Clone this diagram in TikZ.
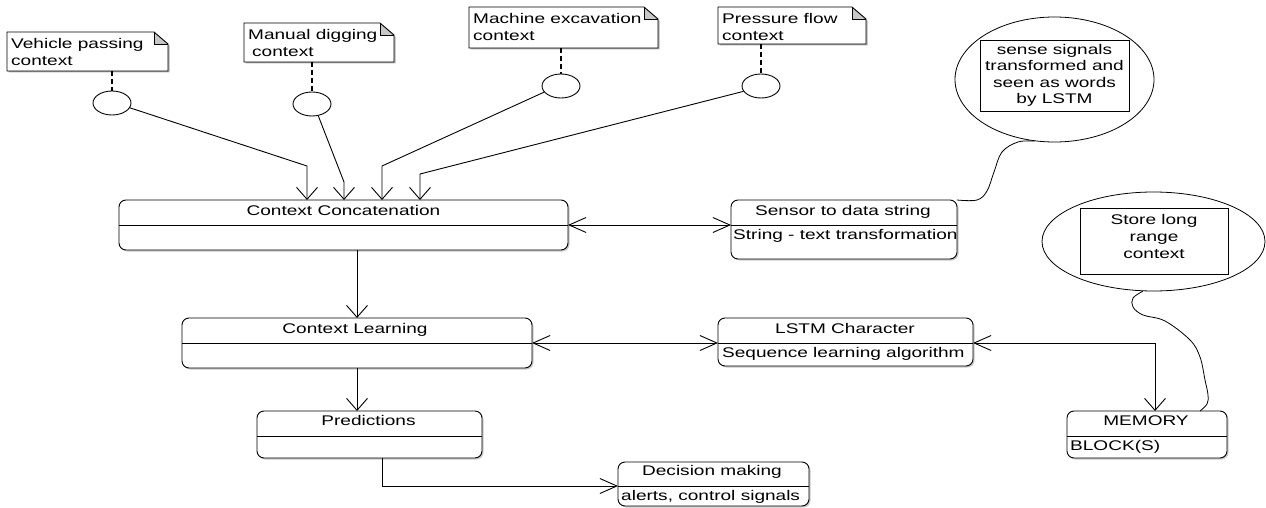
\documentclass[tikz,border=0pt]{standalone}
\usepackage{fontspec}
\setmainfont[FakeStretch=1.36]{Liberation Sans}
\usetikzlibrary{arrows.meta,shapes.geometric,shadows}
\tikzset{
  hbarb/.tip={Straight Barb[length=17pt,width=15pt]},
  vbarb/.tip={Straight Barb[length=12pt,width=21pt]},
  conn/.style={line width=0.9pt, draw=black},
  dashline/.style={line width=1.3pt, dash pattern=on 5pt off 3pt},
  umlbox/.style={draw, line width=0.9pt, rounded corners=7pt, fill=white, inner sep=0pt, outer sep=0pt,
    anchor=north west, drop shadow={shadow xshift=1.5pt, shadow yshift=-1.5pt, fill=black!35, opacity=0.6}},
  notebox/.style={inner sep=0pt, outer sep=0pt, anchor=north west},
  notetext/.style={inner sep=0pt, anchor=north west, align=left},
  ttl/.style={inner sep=0pt, anchor=base},
  body/.style={inner sep=0pt, anchor=base west},
  lolli/.style={ellipse, draw, line width=0.9pt, fill=white, minimum width=38pt, minimum height=24pt, inner sep=0pt},
  bubble/.style={ellipse, draw, line width=0.8pt, fill=white, inner sep=0pt},
  inrect/.style={draw, line width=0.9pt, inner sep=0pt},
}
\newcommand\dogear[1]{%
  \fill[black!30, transform canvas={shift={(1.5pt,-1.5pt)}}] (#1.north west) -- ([xshift=-14pt]#1.north east) -- ([yshift=-12pt]#1.north east) -- (#1.south east) -- (#1.south west) -- cycle;
  \fill[white] (#1.north west) -- ([xshift=-14pt]#1.north east) -- ([yshift=-12pt]#1.north east) -- (#1.south east) -- (#1.south west) -- cycle;
  \fill[gray!45] ([xshift=-14pt]#1.north east) -- ([xshift=-14pt,yshift=-12pt]#1.north east) -- ([yshift=-12pt]#1.north east) -- cycle;
  \draw[line width=0.5pt] ([xshift=-14pt]#1.north east) -- ([xshift=-14pt,yshift=-12pt]#1.north east) -- ([yshift=-12pt]#1.north east);
  \draw[conn] (#1.north west) -- ([xshift=-14pt]#1.north east) -- ([yshift=-12pt]#1.north east) -- (#1.south east) -- (#1.south west) -- cycle;
}
\begin{document}
\begin{tikzpicture}[x=1pt, y=-1pt, font=\fontsize{14}{17}\selectfont]
\useasboundingbox[fill=white] (0,0) rectangle (1266,508);

% ---------------- notes ----------------
\node[notebox, minimum width=161pt, minimum height=39pt] (n1) at (7,32) {};
\dogear{n1}
\node[notetext] (n1t) at (11,38) {Vehicle passing\\context};

\node[notebox, minimum width=150pt, minimum height=39pt] (n2) at (244,23) {};
\dogear{n2}
\node[notetext] (n2t) at (248,29.5) {Manual digging\\\hspace{4pt}context};

\node[notebox, minimum width=189pt, minimum height=41pt] (n3) at (469,7) {};
\dogear{n3}
\node[notetext] (n3t) at (473,13) {Machine excavation\\context};

\node[notebox, minimum width=148pt, minimum height=37pt] (n4) at (718,7) {};
\dogear{n4}
\node[notetext] (n4t) at (722,13) {Pressure flow\\context};

% ---------------- lollipops ----------------
\node[lolli] (c1) at (112,103) {};
\node[lolli] (c2) at (312,104) {};
\node[lolli] (c3) at (561,86) {};
\node[lolli] (c4) at (761,86) {};
\draw[dashline] (c1.north |- n1.south) -- (c1.north);
\draw[dashline] (c2.north |- n2.south) -- (c2.north);
\draw[dashline] (c3.north |- n3.south) -- (c3.north);
\draw[dashline] (c4.north |- n4.south) -- (c4.north);

% ---------------- boxes ----------------
\node[umlbox, minimum width=449pt, minimum height=50pt] (cc) at (119,200) {};
\draw[conn] (119,225) coordinate (ccL) -- (568,225) coordinate (ccR);
\node[ttl] (cct) at (343.5,215) {Context Concatenation};

\node[umlbox, minimum width=226pt, minimum height=59pt] (sds) at (731,200) {};
\draw[conn] (731,225) coordinate (sdsL) -- (957,225) coordinate (sdsR);
\node[ttl] (sdst) at (843,215) {Sensor to data string};
\node[body] (sdsb) at (733,239) {String - text transformation};

\node[umlbox, minimum width=350pt, minimum height=50pt] (cl) at (182,318) {};
\draw[conn] (182,343) coordinate (clL) -- (532,343) coordinate (clR);
\node[ttl] (clt) at (355,333) {Context Learning};

\node[umlbox, minimum width=255pt, minimum height=48pt] (lstm) at (718,318) {};
\draw[conn] (718,343) coordinate (lstmL) -- (973,343) coordinate (lstmR);
\node[ttl] (lstmt) at (845,333) {LSTM Character};
\node[body] (lstmb) at (722,357) {Sequence learning algorithm};

\node[umlbox, minimum width=225pt, minimum height=47pt] (pred) at (257,411) {};
\draw[conn] (257,436) coordinate (predL) -- (482,436) coordinate (predR);
\node[ttl] (predt) at (368.5,425) {Predictions};

\node[umlbox, minimum width=191pt, minimum height=44pt] (dec) at (618,462) {};
\draw[conn] (618,486) coordinate (decL) -- (809,486) coordinate (decR);
\node[ttl] (dect) at (712,475.5) {Decision making};
\node[body] (decb) at (621,500.5) {alerts, control signals};

\node[umlbox, minimum width=160pt, minimum height=47pt] (mem) at (1067,411) {};
\draw[conn] (1067,436) coordinate (memL) -- (1227,436) coordinate (memR);
\node[ttl] (memt) at (1146,425) {MEMORY};
\node[body] (memb) at (1070,450) {BLOCK(S)};

% ---------------- callout bubbles ----------------
\node[bubble, minimum width=199pt, minimum height=125pt] (e1) at (1054.5,79.5) {};
\node[inrect, minimum width=149pt, minimum height=71pt, align=center, font=\fontsize{14}{16.5}\selectfont] (e1r) at (1054.5,75.5)
  {sense signals\\transformed and\\seen as words\\by LSTM};

\node[bubble, minimum width=223pt, minimum height=99pt] (e2) at (1153.5,241.5) {};
\node[inrect, minimum width=148pt, minimum height=66pt] (e2r) at (1154,241) {};
\node[align=center, inner sep=0pt] (e2t) at (1154,236) {Store long\\range\\context};

\draw[line width=0.8pt] plot[smooth, tension=0.6] coordinates
  {(e1.-108) (1018,142) (1002,152) (994,172) (987,191) (977,200) (sds.north east)};
\draw[line width=0.8pt] plot[smooth, tension=0.6] coordinates
  {(e2.-102) (1133,298) (1133,307) (1143,315) (1165,321) (1190,340) (1200,357) (1205,380) (1208,395) (1207,404) ([xshift=53pt]mem.north)};

% ---------------- connectors ----------------
\coordinate (in1) at ([xshift=188pt]cc.north west);
\coordinate (in2) at ([xshift=225pt]cc.north west);
\coordinate (in3) at ([xshift=263pt]cc.north west);
\coordinate (in4) at ([xshift=301pt]cc.north west);
\coordinate (b1) at (307,166);
\coordinate (b2) at (344,182);
\coordinate (b3) at (382,166);
\coordinate (b4) at (420,174);
\draw[conn, -vbarb] (c1.-15) -- (b1) -- (in1);
\draw[conn, -vbarb] (c2.-62) -- (b2) -- (in2);
\draw[conn, -vbarb] (c3.200) -- (b3) -- (in3);
\draw[conn, -vbarb] (c4.197) -- (b4) -- (in4);

\draw[conn, hbarb-hbarb] (ccR) -- (sdsL);
\draw[conn, -vbarb] (cc.south -| cl.north) -- (cl.north);
\draw[conn, -vbarb] (cl.south) -- (cl.south |- pred.north);
\draw[conn, -hbarb] ([xshift=12.5pt]pred.south) |- (decL);
\draw[conn, hbarb-hbarb] (clR) -- (lstmL);
\draw[conn, hbarb-vbarb] (lstmR) -| ([xshift=8pt]mem.north);
\end{tikzpicture}
\end{document}
